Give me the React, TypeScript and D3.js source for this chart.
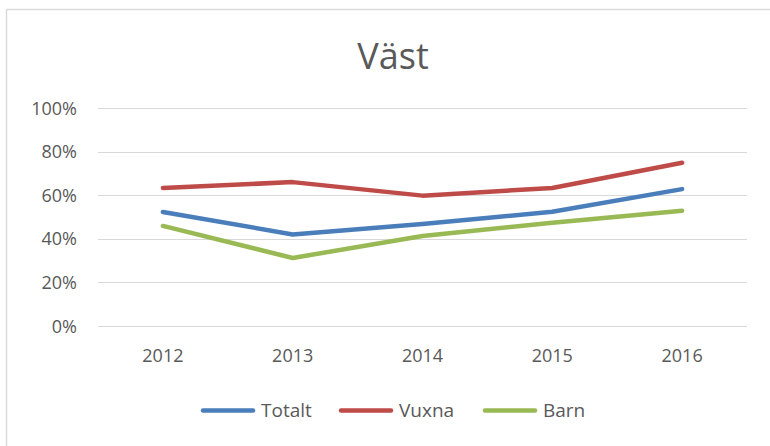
import React from "react";
import * as d3 from "d3";

const years = ["2012", "2013", "2014", "2015", "2016"];
const totalt = [0.523, 0.42, 0.468, 0.524, 0.628];
const vuxna = [0.633, 0.66, 0.598, 0.633, 0.749];
const barn = [0.459, 0.312, 0.413, 0.474, 0.529];
const yTicks = [0, 0.2, 0.4, 0.6, 0.8, 1.0];
const seriesNames = ["Totalt", "Vuxna", "Barn"];
const colors = ["#4a7ebb", "#be4b48", "#98b954"];

export default function App() {
  const W = 770, H = 446;
  const left = 98, right = 747, top = 108, bottom = 326;
  const x = d3.scaleBand<string>().domain(years).range([left, right]);
  const y = d3.scaleLinear().domain([0, 1]).range([bottom, top]);
  const line = d3.line<number>()
    .x((_, i) => (x(years[i]) as number) + x.bandwidth() / 2)
    .y((d) => y(d));
  const data = [totalt, vuxna, barn];
  const font = "'Open Sans', sans-serif";
  const legendX = [201, 339, 483];
  return (
    <svg width={W} height={H} style={{ position: "absolute", left: 0, top: 0, fontFamily: font }}>
      <rect x={0} y={0} width={W} height={H} fill="#fff" />
      <line x1={6.5} y1={9.5} x2={W} y2={9.5} stroke="#d9d9d9" strokeWidth={1.5} />
      <line x1={6.5} y1={9.5} x2={6.5} y2={H} stroke="#d9d9d9" strokeWidth={1.5} />
      <text x={393} y={69} textAnchor="middle" fontSize={36} fill="#595959">Väst</text>
      {yTicks.map((t) => (
        <g key={t}>
          <line x1={left} x2={right} y1={Math.round(y(t)) + 0.5} y2={Math.round(y(t)) + 0.5} stroke="#d9d9d9" strokeWidth={1} />
          <text x={77} y={y(t) + 6.5} textAnchor="end" fontSize={18} fill="#595959">{d3.format(".0%")(t)}</text>
        </g>
      ))}
      {years.map((yr) => (
        <text key={yr} x={(x(yr) as number) + x.bandwidth() / 2} y={362} textAnchor="middle" fontSize={18} fill="#595959">{yr}</text>
      ))}
      {data.map((s, i) => (
        <path key={i} d={line(s) || ""} fill="none" stroke={colors[i]} strokeWidth={4.5} strokeLinejoin="round" strokeLinecap="round" />
      ))}
      {seriesNames.map((n, i) => (
        <g key={n}>
          <line x1={legendX[i] + 2} x2={legendX[i] + 52} y1={410.5} y2={410.5} stroke={colors[i]} strokeWidth={4.5} strokeLinecap="round" />
          <text x={legendX[i] + 60} y={417} fontSize={19} fill="#595959">{n}</text>
        </g>
      ))}
    </svg>
  );
}
